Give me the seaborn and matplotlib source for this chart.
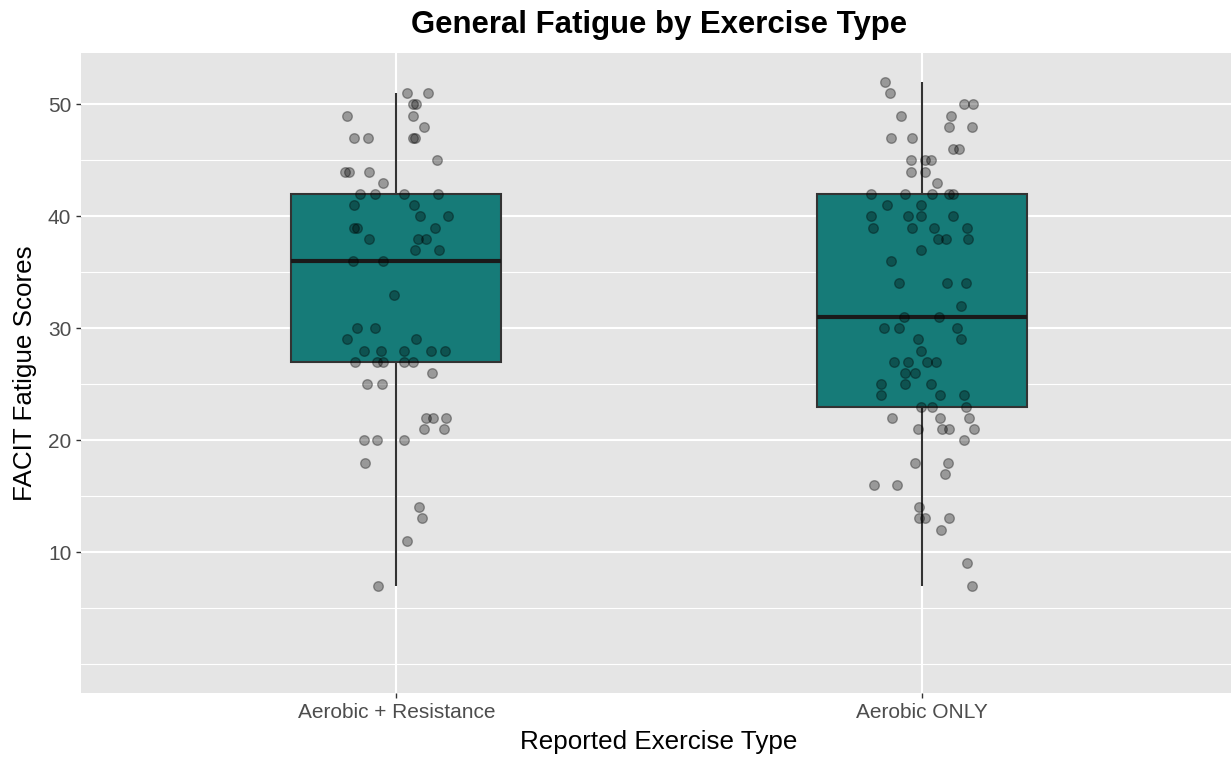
import numpy as np
import pandas as pd
import matplotlib
matplotlib.use("Agg")
import matplotlib.pyplot as plt
import seaborn as sns

# ---- data -------------------------------------------------------------
categories = ["Aerobic + Resistance", "Aerobic ONLY"]

scores_combined = [51, 51, 50, 50, 49, 49, 48, 47, 47, 47, 47, 45, 44, 44, 44, 43,
                   42, 42, 42, 42, 41, 41, 40, 40, 39, 39, 39, 38, 38, 38, 37, 37,
                   36, 36, 33, 30, 30, 29, 29, 28, 28, 28, 28, 28, 27, 27, 27, 27,
                   27, 26, 25, 25, 22, 22, 22, 21, 21, 20, 20, 20, 18, 14, 13, 11, 7]
# horizontal jitter of each point (category units)
jitter_combined = [0.020, 0.060, 0.031, 0.038, 0.031, -0.093, 0.053, -0.080, -0.053, 0.031, 0.036,
                   0.077, -0.097, -0.090, -0.051, -0.026,
                   -0.069, -0.041, 0.015, 0.079, -0.080, 0.034, 0.045, 0.098, -0.080, -0.074, 0.074,
                   -0.051, 0.057, 0.041, 0.036, 0.082,
                   -0.083, -0.026, -0.004, -0.074, -0.040, 0.038, -0.093, -0.061, -0.029, 0.015, 0.066,
                   0.093, -0.078, -0.026, 0.015, 0.031,
                   -0.037, 0.068, -0.056, -0.028, 0.057, 0.069, 0.095, 0.053, 0.090, -0.062, -0.037,
                   0.015, -0.059, 0.043, 0.049, 0.020, -0.034]

scores_aerobic = [52, 51, 50, 50, 49, 49, 48, 48, 47, 47, 46, 46, 45, 45, 45, 44, 44, 43,
                  42, 42, 42, 42, 42, 41, 41, 40, 40, 40, 40, 39, 39, 39, 39, 38, 38, 38,
                  37, 36, 34, 34, 34, 32, 31, 31, 30, 30, 30, 29, 29, 28, 27, 27, 27, 27,
                  26, 26, 25, 25, 25, 24, 24, 24, 23, 23, 23, 22, 22, 22, 21, 21, 21, 21,
                  20, 18, 18, 17, 16, 16, 14, 13, 13, 13, 12, 9, 7]
jitter_aerobic = [-0.069, -0.060, 0.097, 0.081, 0.055, -0.039, 0.052, 0.095, -0.058, -0.019,
                  0.059, 0.071, -0.021, 0.006, 0.017, -0.021, 0.006, 0.029,
                  -0.097, -0.031, 0.020, 0.052, 0.059, -0.067, -0.002, -0.097, -0.026, -0.002,
                  0.059, -0.092, -0.019, 0.023, 0.086, 0.031, 0.047, 0.088,
                  -0.002, -0.059, -0.043, 0.049, 0.084, 0.074, 0.033, -0.034, -0.072, -0.043,
                  0.067, -0.007, 0.074, -0.002, -0.053, -0.026, 0.010, 0.028,
                  -0.032, -0.013, -0.077, -0.031, 0.017, -0.078, 0.035, 0.080, -0.002, 0.020,
                  0.084, -0.056, 0.035, 0.090, -0.008, 0.039, 0.052, 0.099,
                  0.080, -0.013, 0.050, 0.044, -0.090, -0.048, -0.006, -0.006, 0.006, 0.052,
                  0.036, 0.087, 0.095]

y_ticks = [10, 20, 30, 40, 50]
y_minor = [0, 5, 15, 25, 35, 45]

# ---- frame ------------------------------------------------------------
df = pd.DataFrame({
    "type": [categories[0]] * len(scores_combined) + [categories[1]] * len(scores_aerobic),
    "score": scores_combined + scores_aerobic,
    "pos": [0 + j for j in jitter_combined] + [1 + j for j in jitter_aerobic],
})

sns.set_theme(style="white")
plt.rcParams["font.family"] = ["Liberation Sans", "DejaVu Sans"]

fig = plt.figure(figsize=(12.31, 7.59), dpi=100)
ax = fig.add_axes([81 / 1231, 1 - 693 / 759, (1237 - 81) / 1231, (693 - 53) / 759])
ax.set_facecolor("#E5E5E5")
for s in ax.spines.values():
    s.set_visible(False)

# grid
for v in y_minor:
    ax.axhline(v, color="white", lw=0.8, zorder=0.5)
for v in y_ticks:
    ax.axhline(v, color="white", lw=1.5, zorder=0.6)
for v in range(len(categories)):
    ax.axvline(v, color="white", lw=1.5, zorder=0.6)

teal = "#167B78"
sns.boxplot(data=df, x="type", y="score", order=categories, width=0.4,
            color=teal, saturation=1, linecolor="#333333", linewidth=1.5,
            showcaps=False, showfliers=False, whis=1.5,
            medianprops={"color": "#1A1A1A", "linewidth": 3.0},
            ax=ax, zorder=2)

sns.scatterplot(data=df, x="pos", y="score", s=48,
                color=(0, 0, 0, 0.33), edgecolor=(0, 0, 0, 0.33), linewidth=1.0,
                ax=ax, zorder=3, legend=False)

ax.set_xlim(-0.6, 1.6)
ax.set_ylim(-2.6, 54.6)
ax.set_xticks(range(len(categories)))
ax.set_xticklabels(categories)
ax.set_yticks(y_ticks)
ax.set_yticklabels([str(v) for v in y_ticks])
ax.tick_params(axis="both", which="major", length=3.5, width=1.0, color="#333333",
               labelcolor="#4D4D4D", labelsize=15, pad=3.5)
ax.tick_params(left=True, bottom=True)

ax.set_xlabel("Reported Exercise Type", fontsize=18.7, color="black", labelpad=6)
ax.set_ylabel("FACIT Fatigue Scores", fontsize=18.7, color="black", labelpad=8)
fig.text(659 / 1231, 1 - 25 / 759, "General Fatigue by Exercise Type",
         ha="center", va="center", fontsize=22.4, fontweight="bold", color="black")

fig.savefig("out.png", dpi=100)
